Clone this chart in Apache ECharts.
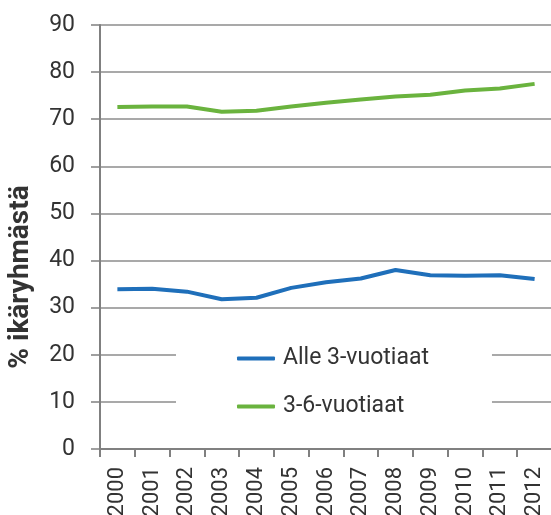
<!DOCTYPE html>
<html><head><meta charset="utf-8">
<script src="https://cdn.jsdelivr.net/npm/echarts@6/dist/echarts.min.js"></script>
<style>html,body{margin:0;padding:0;background:#fff}#c{width:551px;height:515px}</style>
</head><body><div id="c"></div>
<script>
const years = ['2000','2001','2002','2003','2004','2005','2006','2007','2008','2009','2010','2011','2012'];
const alle3 = [33.9,34.0,33.4,31.8,32.1,34.2,35.4,36.2,38.0,36.9,36.8,36.9,36.1];
const v3to6 = [72.6,72.7,72.7,71.6,71.8,72.7,73.5,74.2,74.8,75.2,76.1,76.5,77.5];
const yTicks = [0,10,20,30,40,50,60,70,80,90];
const seriesNames = ['Alle 3-vuotiaat','3-6-vuotiaat'];
const yName = '% ikäryhmästä';

const chart = echarts.init(document.getElementById('c'), null, {renderer:'canvas'});
const font = 'Roboto, "Liberation Sans", sans-serif';
chart.setOption({
  animation:false,
  backgroundColor:'#fff',
  grid:{left:100, right:-1, top:25, bottom:66, outerBoundsMode:'none', containLabel:false},
  xAxis:{
    type:'category', data:years, boundaryGap:true,
    axisLine:{lineStyle:{color:'#808080', width:2}},
    axisTick:{show:true, interval:0, length:8, lineStyle:{color:'#808080', width:2}},
    axisLabel:{rotate:90, margin:18, fontSize:22, color:'#333', fontFamily:font, interval:0}
  },
  yAxis:{
    type:'value', min:yTicks[0], max:yTicks[yTicks.length-1], interval:10,
    axisLine:{show:true, lineStyle:{color:'#808080', width:2}},
    axisTick:{show:true, length:9, lineStyle:{color:'#808080', width:1.5}},
    splitLine:{show:true, lineStyle:{color:'#8c8c8c', width:1.5}},
    axisLabel:{fontSize:23, color:'#333', fontFamily:font, margin:25}
  },
  legend:{
    orient:'vertical', left:176, top:325,
    padding:[22,63,20,61],
    backgroundColor:'#fff',
    itemGap:25, itemWidth:38, itemHeight:4, icon:'roundRect',
    textStyle:{fontSize:23, color:'#333', fontFamily:font, padding:[0,0,0,3]},
    data:seriesNames
  },
  graphic:[{
    type:'text',
    rotation:Math.PI/2,
    x:21, y:277,
    style:{text:yName, fill:'#333', font:'bold 28px '+font, textAlign:'center', textVerticalAlign:'middle'}
  }],
  series:[
    {name:seriesNames[0], type:'line', data:alle3, showSymbol:false, symbol:'none',
     lineStyle:{color:'#1f6fba', width:4}, itemStyle:{color:'#1f6fba'}},
    {name:seriesNames[1], type:'line', data:v3to6, showSymbol:false, symbol:'none',
     lineStyle:{color:'#6ab33e', width:4}, itemStyle:{color:'#6ab33e'}}
  ]
});
</script></body></html>
